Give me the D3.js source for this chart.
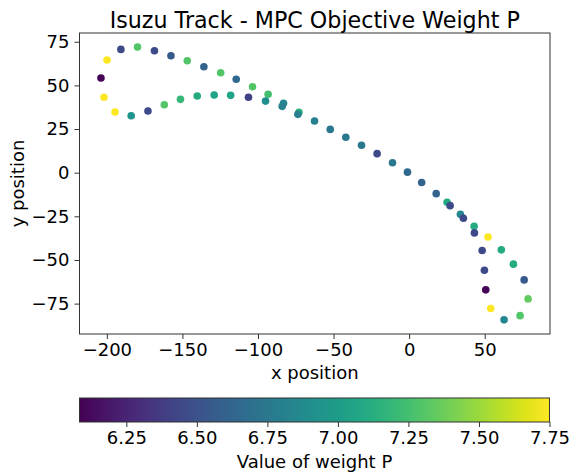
<!DOCTYPE html>
<html>
<head>
<meta charset="utf-8">
<script src="https://cdn.jsdelivr.net/npm/d3@7"></script>
<style>
  body { margin: 0; background: #fff; }
  svg { font-family: "DejaVu Sans", sans-serif; }
  .tick line { stroke: #333; }
  .domain { stroke: none; }
</style>
</head>
<body>
<div id="chart"></div>
<script>
const width = 569;
const height = 474;

// track points
const xPos = [-203.9, -199.9, -190.7, -179.7, -168.5, -157.6, -146.8, -135.8, -124.7, -114.4,
  -103.6, -93.3, -106.3, -118.1, -129.0, -140.2, -151.3, -162.0, -172.8, -183.9,
  -194.6, -201.9, -95.0, -83.1, -84.0, -72.9, -73.6, -62.6, -52.2, -41.9,
  -31.5, -21.2, -11.0, -1.1, 8.3, 17.9, 25.1, 27.1, 33.9, 35.9,
  43.0, 43.2, 52.2, 48.3, 61.0, 69.0, 49.8, 76.1, 50.7, 78.7,
  54.0, 73.4, 62.8];
const yPos = [54.2, 64.5, 70.6, 72.0, 69.8, 67.0, 64.1, 60.7, 57.2, 53.5,
  49.2, 44.9, 43.2, 44.3, 44.5, 43.9, 42.0, 38.9, 35.3, 32.6,
  34.7, 43.2, 41.0, 39.7, 38.0, 34.6, 33.4, 29.6, 24.8, 20.3,
  15.7, 10.9, 5.7, 0.3, -5.6, -12.0, -16.9, -18.9, -23.8, -26.1,
  -30.7, -34.5, -36.8, -44.6, -44.2, -52.4, -55.9, -61.4, -67.1, -72.3,
  -77.8, -81.9, -84.3];
const weightP = [6.1, 7.75, 6.45, 7.3, 6.45, 6.55, 7.3, 6.6, 7.3, 6.65,
  7.3, 7.25, 6.4, 7.05, 7.05, 7.1, 7.2, 7.3, 6.45, 6.95,
  7.75, 7.75, 6.9, 6.85, 6.8, 7.15, 6.8, 6.8, 6.75, 6.75,
  6.75, 6.45, 6.75, 6.65, 6.6, 6.6, 7.1, 6.45, 6.85, 6.45,
  7.1, 6.45, 7.75, 6.45, 7.1, 7.1, 6.45, 6.55, 6.1, 7.35,
  7.75, 7.3, 6.85];

const xTicks = [-200, -150, -100, -50, 0, 50];
const yTicks = [-75, -50, -25, 0, 25, 50, 75];
const cTicks = [6.25, 6.5, 6.75, 7.0, 7.25, 7.5, 7.75];

const plot = { left: 79.5, right: 550, top: 33, bottom: 334 };
const bar = { left: 79.5, right: 549.5, top: 398, bottom: 422 };
const fontSize = 18;

const svg = d3.select("#chart")
  .append("svg")
  .attr("width", width)
  .attr("height", height);

const x = d3.scaleLinear()
  .domain([-218.1, 93.2])
  .range([plot.left, plot.right]);

const y = d3.scaleLinear()
  .domain([-92.4, 80])
  .range([plot.bottom, plot.top]);

const cDomain = [6.084, 7.75];
const color = d3.scaleSequential(d3.interpolateViridis).domain(cDomain);

const points = xPos.map((d, i) => ({ x: d, y: yPos[i], p: weightP[i] }));

const minus = d => d < 0 ? "\u2212" + Math.abs(d) : d;

svg.append("g")
  .selectAll("circle")
  .data(points)
  .join("circle")
  .attr("cx", d => x(d.x))
  .attr("cy", d => y(d.y))
  .attr("r", 3.8)
  .attr("fill", d => color(d.p));

svg.append("rect")
  .attr("x", plot.left)
  .attr("y", plot.top)
  .attr("width", plot.right - plot.left)
  .attr("height", plot.bottom - plot.top)
  .attr("fill", "none")
  .attr("stroke", "#333")
  .attr("stroke-width", 1);

const xAxis = svg.append("g")
  .attr("transform", `translate(0, ${plot.bottom})`)
  .call(d3.axisBottom(x).tickValues(xTicks).tickSize(5).tickPadding(4).tickFormat(minus));

const yAxis = svg.append("g")
  .attr("transform", `translate(${plot.left}, 0)`)
  .call(d3.axisLeft(y).tickValues(yTicks).tickSize(5).tickPadding(5).tickFormat(minus));

svg.append("text")
  .attr("x", (plot.left + plot.right) / 2)
  .attr("y", 28)
  .attr("text-anchor", "middle")
  .attr("font-size", 22.2)
  .text("Isuzu Track - MPC Objective Weight P");

svg.append("text")
  .attr("x", (plot.left + plot.right) / 2)
  .attr("y", 379)
  .attr("text-anchor", "middle")
  .attr("font-size", fontSize)
  .text("x position");

svg.append("text")
  .attr("transform", "rotate(-90)")
  .attr("x", -(plot.top + plot.bottom) / 2)
  .attr("y", 24)
  .attr("text-anchor", "middle")
  .attr("font-size", fontSize)
  .text("y position");

// colorbar
const c = d3.scaleLinear().domain(cDomain).range([bar.left, bar.right]);

const grad = svg.append("defs")
  .append("linearGradient")
  .attr("id", "viridis");

grad.selectAll("stop")
  .data(d3.range(0, 1.0001, 0.05))
  .join("stop")
  .attr("offset", d => d)
  .attr("stop-color", d => d3.interpolateViridis(d));

svg.append("rect")
  .attr("x", bar.left)
  .attr("y", bar.top)
  .attr("width", bar.right - bar.left)
  .attr("height", bar.bottom - bar.top)
  .attr("fill", "url(#viridis)")
  .attr("stroke", "#333");

const cAxis = svg.append("g")
  .attr("transform", `translate(0, ${bar.bottom})`)
  .call(d3.axisBottom(c).tickValues(cTicks).tickSize(5).tickPadding(4)
    .tickFormat(d3.format(".2f")));

[xAxis, yAxis, cAxis].forEach(g => {
  g.attr("font-size", null).attr("font-family", null);
  g.selectAll(".tick text")
    .style("font-size", fontSize + "px")
    .attr("fill", "#000");
});

svg.append("text")
  .attr("x", (bar.left + bar.right) / 2)
  .attr("y", 468)
  .attr("text-anchor", "middle")
  .attr("font-size", fontSize)
  .text("Value of weight P");
</script>
</body>
</html>
